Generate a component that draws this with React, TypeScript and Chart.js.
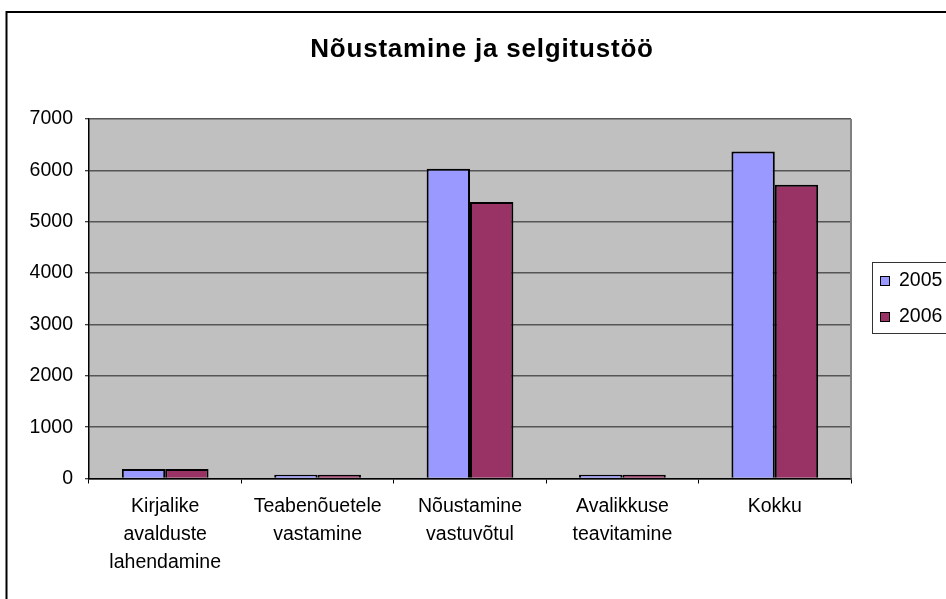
import React, { useEffect, useRef } from "react";
import { Chart, registerables } from "chart.js";

Chart.register(...registerables);

const TITLE = "Nõustamine ja selgitustöö";
const categories: string[][] = [
  ["Kirjalike", "avalduste", "lahendamine"],
  ["Teabenõuetele", "vastamine"],
  ["Nõustamine", "vastuvõtul"],
  ["Avalikkuse", "teavitamine"],
  ["Kokku"],
];
const seriesNames = ["2005", "2006"];
const values2005 = [185, 75, 6030, 75, 6365];
const values2006 = [185, 75, 5385, 75, 5720];
const seriesColors = ["#9999FF", "#993366"];
const yMin = 0;
const yMax = 7000;
const yStep = 1000;

const FONT = "'Liberation Sans', Arial, sans-serif";

const decorPlugin = {
  id: "decor",
  beforeDraw(chart: any) {
    const { ctx, chartArea } = chart;
    ctx.save();
    ctx.fillStyle = "#ffffff";
    ctx.fillRect(0, 0, chart.width, chart.height);
    ctx.fillStyle = "#C0C0C0";
    ctx.fillRect(chartArea.left, chartArea.top, chartArea.right - chartArea.left, chartArea.bottom - chartArea.top);
    ctx.restore();
  },
  afterDraw(chart: any) {
    const { ctx, chartArea } = chart;
    ctx.save();
    // plot area right border
    ctx.strokeStyle = "#808080";
    ctx.lineWidth = 2;
    ctx.beginPath();
    ctx.moveTo(chartArea.right, chartArea.top);
    ctx.lineTo(chartArea.right, chartArea.bottom);
    ctx.stroke();
    // outer frame
    ctx.strokeStyle = "#000";
    ctx.lineWidth = 2;
    ctx.strokeRect(6.5, 12, 1000, 700);
    // title
    ctx.fillStyle = "#000";
    ctx.font = `bold 26px ${FONT}`;
    try { (ctx as any).letterSpacing = "0.8px"; } catch (e) {}
    ctx.textAlign = "center";
    ctx.textBaseline = "alphabetic";
    ctx.fillText(TITLE, 482, 56.5);
    try { (ctx as any).letterSpacing = "0px"; } catch (e) {}
    // legend
    ctx.strokeStyle = "#333";
    ctx.lineWidth = 1;
    ctx.strokeRect(872.5, 262.5, 200, 71);
    const ys = [281, 317];
    ctx.font = `19.5px ${FONT}`;
    ctx.textAlign = "left";
    ctx.textBaseline = "middle";
    chart.data.datasets.forEach((ds: any, i: number) => {
      const y = ys[i];
      ctx.fillStyle = ds.backgroundColor;
      ctx.fillRect(880, y - 5, 9, 9);
      ctx.strokeStyle = "#000";
      ctx.lineWidth = 1;
      ctx.strokeRect(880.5, y - 4.5, 9, 9);
      ctx.fillStyle = "#000";
      ctx.fillText(ds.label, 899, y);
    });
    ctx.restore();
  },
};

export default function App() {
  const ref = useRef<HTMLCanvasElement | null>(null);
  useEffect(() => {
    if (!ref.current) return;
    const chart = new Chart(ref.current, {
      type: "bar",
      data: {
        labels: categories,
        datasets: [
          {
            label: seriesNames[0],
            data: values2005,
            backgroundColor: seriesColors[0],
            borderColor: "#000",
            borderWidth: 2,
            categoryPercentage: 0.569,
            barPercentage: 1,
          },
          {
            label: seriesNames[1],
            data: values2006,
            backgroundColor: seriesColors[1],
            borderColor: "#000",
            borderWidth: 2,
            categoryPercentage: 0.569,
            barPercentage: 1,
          },
        ],
      },
      options: {
        animation: false,
        responsive: false,
        maintainAspectRatio: false,
        layout: { padding: { left: 0, top: 119, right: 95, bottom: 0 } },
        plugins: { legend: { display: false }, title: { display: false }, tooltip: { enabled: false } },
        scales: {
          x: {
            afterFit: (s: any) => { s.height = 120.5; },
            grid: { display: true, drawOnChartArea: false, drawTicks: true, tickLength: 5, tickColor: "#000", offset: true },
            border: { display: true, color: "#000", width: 1.5 },
            ticks: {
              color: "#000",
              padding: 9,
              maxRotation: 0,
              autoSkip: false,
              font: { family: FONT, size: 19.5, lineHeight: 1.436 },
            },
          },
          y: {
            min: yMin,
            max: yMax,
            afterFit: (s: any) => { s.width = 89; },
            grid: { color: "#555555", lineWidth: 1.5, tickLength: 4, tickColor: "#000", tickWidth: 1 },
            border: { display: true, color: "#000", width: 1.5 },
            ticks: {
              stepSize: yStep,
              color: "#000",
              padding: 12,
              font: { family: FONT, size: 19.5 },
              callback: (v: any) => String(v),
            },
          },
        },
      },
      plugins: [decorPlugin],
    });
    return () => chart.destroy();
  }, []);
  return (
    <div style={{ position: "fixed", left: 0, top: 0, width: 946, height: 599, background: "#fff" }}>
      <canvas ref={ref} width={946} height={599} style={{ display: "block", width: 946, height: 599 }} />
    </div>
  );
}
